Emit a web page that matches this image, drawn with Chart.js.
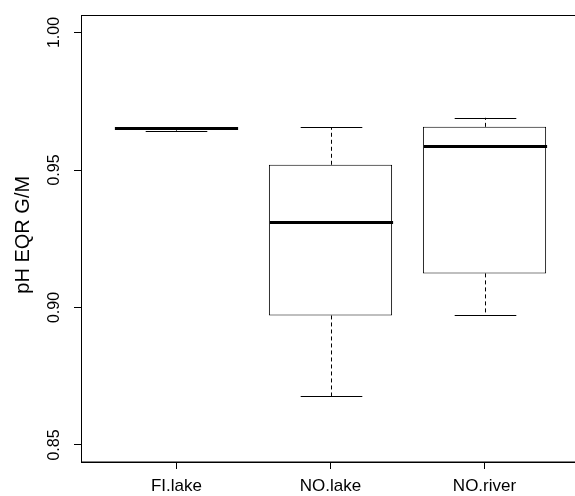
<!DOCTYPE html>
<html>
<head>
<meta charset="utf-8">
<script src="https://cdn.jsdelivr.net/npm/chart.js@4"></script>
<style>
html, body { margin: 0; padding: 0; overflow: hidden; background: #fff; }
canvas { display: block; }
</style>
</head>
<body>
<canvas id="chart" width="590" height="496"></canvas>
<script>
// box plot data
const categories = ['FI.lake', 'NO.lake', 'NO.river'];
const whiskerLow = [0.9643, 0.8678, 0.8971];
const boxLow = [0.9651, 0.8971, 0.9124];
const medians = [0.9653, 0.9311, 0.9587];
const boxHigh = [0.9654, 0.9519, 0.9657];
const whiskerHigh = [0.9654, 0.9656, 0.9690];
const yTicks = [0.85, 0.90, 0.95, 1.00];

const FONT = '"Liberation Sans", Arial, sans-serif';

// whiskers, staples, medians, border and rotated y labels
const boxplotExtras = {
    id: 'boxplotExtras',
    afterDatasetsDraw(chart) {
        const { ctx, chartArea, scales: { x, y } } = chart;
        ctx.save();
        ctx.strokeStyle = '#000';
        categories.forEach((cat, i) => {
            const cx = Math.round(x.getPixelForValue(i + 1)) + 0.5;
            const half = x.getPixelForValue(i + 1.4) - x.getPixelForValue(i + 1);
            const staple = half / 2;

            // dashed whiskers
            ctx.lineWidth = 1;
            ctx.setLineDash([4, 3]);
            ctx.beginPath();
            ctx.moveTo(cx, y.getPixelForValue(boxHigh[i]));
            ctx.lineTo(cx, y.getPixelForValue(whiskerHigh[i]));
            ctx.moveTo(cx, y.getPixelForValue(boxLow[i]));
            ctx.lineTo(cx, y.getPixelForValue(whiskerLow[i]));
            ctx.stroke();

            // staples
            ctx.setLineDash([]);
            ctx.beginPath();
            [whiskerHigh[i], whiskerLow[i]].forEach(v => {
                const py = Math.round(y.getPixelForValue(v)) + 0.5;
                ctx.moveTo(cx - staple, py);
                ctx.lineTo(cx + staple, py);
            });
            ctx.stroke();

            // median
            ctx.lineWidth = 3;
            ctx.beginPath();
            const my = Math.round(y.getPixelForValue(medians[i])) + 0.5;
            ctx.moveTo(cx - half, my);
            ctx.lineTo(cx + half, my);
            ctx.stroke();
        });

        // plot frame
        ctx.lineWidth = 1;
        ctx.strokeRect(chartArea.left + 0.5, chartArea.top, chartArea.right - chartArea.left, chartArea.bottom - chartArea.top);

        // rotated y tick labels
        ctx.fillStyle = '#000';
        ctx.font = '16px ' + FONT;
        ctx.textAlign = 'center';
        ctx.textBaseline = 'alphabetic';
        yTicks.forEach(v => {
            ctx.save();
            ctx.translate(58.5, y.getPixelForValue(v));
            ctx.rotate(-Math.PI / 2);
            ctx.fillText(v.toFixed(2), 0, 0);
            ctx.restore();
        });

        // y title
        ctx.font = '20px ' + FONT;
        ctx.save();
        ctx.translate(29, (chartArea.top + chartArea.bottom) / 2 - 4);
        ctx.rotate(-Math.PI / 2);
        ctx.fillText('pH EQR G/M', 0, 0);
        ctx.restore();
        ctx.restore();
    }
};

const ctx = document.getElementById('chart').getContext('2d');
new Chart(ctx, {
    type: 'bar',
    data: {
        datasets: [{
            data: categories.map((c, i) => ({ x: i + 1, y: [boxLow[i], boxHigh[i]] })),
            backgroundColor: '#fff',
            borderColor: '#000',
            borderWidth: 1,
            borderSkipped: false,
            categoryPercentage: 0.8,
            barPercentage: 1.0
        }]
    },
    options: {
        responsive: false,
        animation: false,
        layout: { padding: { top: 15.5, right: 10, left: 0, bottom: 0 } },
        plugins: {
            legend: { display: false },
            tooltip: { enabled: false }
        },
        scales: {
            x: {
                type: 'linear',
                offset: false,
                min: 0.38,
                max: 3.62,
                afterBuildTicks: s => { s.ticks = [1, 2, 3].map(v => ({ value: v })); },
                afterFit: s => { s.height = 34; },
                ticks: {
                    callback: v => categories[v - 1],
                    color: '#000',
                    font: { family: FONT, size: 17 },
                    padding: 7,
                    maxRotation: 0,
                    autoSkip: false
                },
                grid: { offset: false, drawOnChartArea: false, tickLength: 7, color: '#000' },
                border: { display: true, color: '#000' }
            },
            y: {
                min: 0.8438,
                max: 1.0062,
                afterBuildTicks: s => { s.ticks = yTicks.map(v => ({ value: v })); },
                afterFit: s => { s.width = 81; },
                ticks: { display: false },
                grid: { drawOnChartArea: false, tickLength: 7, color: '#000' },
                border: { display: true, color: '#000' }
            }
        }
    },
    plugins: [boxplotExtras]
});
</script>
</body>
</html>
